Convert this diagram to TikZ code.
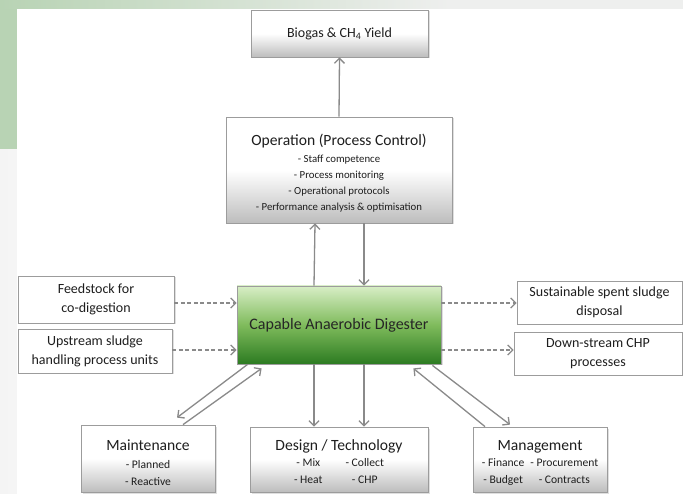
\documentclass[tikz,border=0pt]{standalone}
\usepackage{fontspec}
\setmainfont{Carlito}
\usetikzlibrary{arrows.meta,shadows}

\definecolor{txt}{HTML}{1E1E1E}
\definecolor{boxline}{HTML}{9C9C9C}
\definecolor{boxgrey}{HTML}{BDBDBD}
\definecolor{arrgrey}{HTML}{8A8A8A}
\definecolor{stripgreen}{HTML}{B8D3B4}
\definecolor{stripgrey}{HTML}{F4F4F4}
\definecolor{bandgrey}{HTML}{EEEFEE}
\definecolor{digtop}{HTML}{D8EEC6}
\definecolor{digmid}{HTML}{7FBB5C}
\definecolor{digbot}{HTML}{2C7B21}

\newcommand{\titlefont}{\fontsize{15.6}{19}\selectfont}
\newcommand{\opitemfont}{\fontsize{10.8}{16.2}\selectfont}
\newcommand{\itemfont}{\fontsize{11.6}{17}\selectfont}

\begin{document}
\begin{tikzpicture}[x=1pt, y=-1pt,
        box/.style={draw=boxline, line width=0.8pt, text=txt, align=center,
            inner sep=0pt, font=\titlefont,
            drop shadow={opacity=0.25, shadow xshift=1.5pt, shadow yshift=-1.5pt}},
        shadebox/.style={box, top color=white, bottom color=boxgrey, middle color=white},
        plainbox/.style={box, fill=white, font=\fontsize{14}{19}\selectfont},
        arr/.style={draw=arrgrey, line width=1.3pt, -{Straight Barb[length=5pt, width=10pt]}},
        dasharr/.style={arr, dash pattern=on 4pt off 2.5pt}]

        \useasboundingbox (0,0) rectangle (683,494);

        % Draw the background strips
        \fill[white] (0,0) rectangle (683,494);
        \fill[stripgreen] (0,0) rectangle (17,149);
        \fill[stripgrey] (0,149) rectangle (17,494);
        \fill[black!4] (8,149) rectangle (17,494);
        \shade[left color=stripgreen, right color=bandgrey] (0,0) rectangle (450,9);
        \fill[bandgrey] (450,0) rectangle (683,9);

        % Draw the top boxes
        \node[shadebox, minimum width=177pt, minimum height=47pt, font=\fontsize{14}{17}\selectfont]
            (biogas) at (339.5,33.5) {Biogas \& CH\textsubscript{4} Yield};
        \node[shadebox, minimum width=226pt, minimum height=106pt, font=\opitemfont] (oper) at (339,170)
            {\rule{0pt}{17.5pt}{\titlefont Operation (Process Control)}\\[0.8pt]
             - Staff competence\\
             - Process monitoring\\
             - Operational protocols\\
             - Performance analysis \& optimisation};

        % Draw the digester
        \node[box, top color=digtop, bottom color=digbot, middle color=digmid,
            minimum width=204pt, minimum height=78pt, font=\fontsize{16}{19}\selectfont,
            text=black!85] (digester) at (339,325) {Capable Anaerobic Digester};

        % Draw the side boxes
        \node[plainbox, minimum width=156pt, minimum height=47pt] (feed) at (96,299.5)
            {Feedstock for\\co-digestion};
        \node[plainbox, minimum width=154pt, minimum height=44pt] (upstream) at (95,351)
            {Upstream sludge\\handling process units};
        \node[plainbox, minimum width=165pt, minimum height=43pt] (sludge) at (599.5,302.5)
            {Sustainable spent sludge\\disposal};
        \node[plainbox, minimum width=168pt, minimum height=43pt] (chp) at (598,353.5)
            {Down-stream CHP\\processes};

        % Draw the bottom boxes
        \node[shadebox, minimum width=134pt, minimum height=67pt, font=\itemfont] (maint) at (148,458.5)
            {\rule{0pt}{19pt}{\titlefont Maintenance}\\[1pt]
             - Planned\\
             - Reactive};
        \node[shadebox, minimum width=178pt, minimum height=65pt] (design) at (339,459.5)
            {\rule{0pt}{20pt}Design / Technology\\
             {\itemfont\begin{tabular}{@{}c@{\hspace{23pt}}c@{}}
                - Mix & - Collect\\
                - Heat & - CHP
             \end{tabular}}};
        \node[shadebox, minimum width=134pt, minimum height=65pt] (manage) at (540,459.5)
            {\rule{0pt}{20pt}Management\\
             {\itemfont\begin{tabular}{@{}c@{\hspace{6pt}}c@{}}
                - Finance & - Procurement\\
                - Budget & - Contracts
             \end{tabular}}};

        % Arrows up and down the middle
        \draw[arr] (oper.north) -- (biogas.south);
        \draw[arr] ([xshift=-25pt]digester.north) -- ([xshift=-24pt]oper.south);
        \draw[arr] ([xshift=25pt]oper.south) -- ([xshift=25pt]digester.north);
        \draw[arr] ([xshift=-25pt]digester.south) -- ([xshift=-25pt]design.north);
        \draw[arr] ([xshift=25pt]digester.south) -- ([xshift=25pt]design.north);

        % Dashed arrows in and out
        \draw[dasharr] (feed.east |- 0,303) -- (digester.west |- 0,303);
        \draw[dasharr] (upstream.east |- 0,350) -- (digester.west |- 0,350);
        \draw[dasharr] (digester.east |- 0,303) -- (sludge.west |- 0,303);
        \draw[dasharr] (digester.east |- 0,350) -- (chp.west |- 0,350);

        % Diagonal arrows to maintenance and management
        \draw[arr] ([xshift=11pt]digester.south west) -- ([xshift=29pt, yshift=7pt]maint.north);
        \draw[arr] ([xshift=35pt]maint.north) -- ([xshift=25pt, yshift=-4pt]digester.south west);
        \draw[arr] ([xshift=-55pt]manage.north) -- ([xshift=-28pt, yshift=-4pt]digester.south east);
        \draw[arr] ([xshift=-9pt, yshift=-1pt]digester.south east) -- ([xshift=-30pt, yshift=2pt]manage.north);

    \end{tikzpicture}
\end{document}
